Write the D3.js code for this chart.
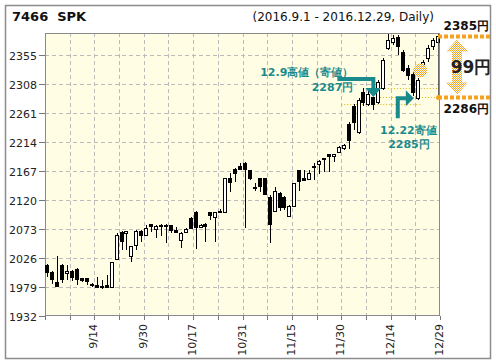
<!DOCTYPE html>
<html><head><meta charset="utf-8">
<script src="https://cdn.jsdelivr.net/npm/d3@7"></script>
<style>body{margin:0;background:#fff}</style>
</head><body><svg id="c" width="496" height="364"></svg>
<script>
const dates = ["9/1","9/2","9/5","9/6","9/7","9/8","9/9","9/12","9/13","9/14","9/15","9/16","9/20","9/21","9/23","9/26","9/27","9/28","9/29","9/30",
"10/3","10/4","10/5","10/6","10/7","10/11","10/12","10/13","10/14","10/17","10/18","10/19","10/20","10/21","10/24","10/25","10/26","10/27","10/28","10/31",
"11/1","11/2","11/4","11/7","11/8","11/9","11/10","11/11","11/14","11/15","11/16","11/17","11/18","11/21","11/22","11/24","11/25","11/28","11/29","11/30",
"12/1","12/2","12/5","12/6","12/7","12/8","12/9","12/12","12/13","12/14","12/15","12/16","12/19","12/20","12/21","12/22","12/26","12/27","12/28","12/29"];
const openP = [2014.7,2003.8,1986.6,2014.7,2001.2,2004.9,2008.2,1993.1,1993.1,1984.3,1982.2,1981.1,1982.2,1978.5,2023.9,2068.6,2066,2029.2,2047.1,2069.8,
2063.3,2080.6,2072.5,2080,2080,2079,2071.4,2055.2,2068.1,2090.3,2101,2075.8,2081.1,2100.1,2092,2102.7,2100.1,2155.2,2169.8,2175.1,
2179.5,2168.6,2140.6,2155.2,2155.2,2125.3,2102.2,2131.8,2125.3,2094.1,2110.3,2168.6,2155.2,2153.5,2175.1,2178.3,2187.6,2194.1,2191.3,2198.3,
2203.8,2243.2,2272.3,2230.2,2295,2275.6,2286.9,2278.8,2301.5,2366.3,2376.1,2384.2,2359.9,2334,2324.2,2285,2327.5,2350.1,2369.6,2376.1];
const highP = [2016,2005,2029.2,2016.3,2014.7,2006.6,2009.8,1993.6,1993.6,1985.5,1995.7,1990.3,1998.4,2019.5,2066,2069.8,2069.8,2045.4,2071.4,2071.4,
2079.5,2081.1,2079.5,2080.3,2080.3,2079.5,2075.8,2068.1,2074.6,2092.4,2102.2,2081.1,2081.9,2100.6,2100.6,2105.4,2155.7,2163.3,2171.9,2179.5,
2180.8,2168.6,2147.6,2155.7,2155.7,2128.1,2141.6,2133,2126.9,2111.9,2147.6,2168.6,2168.6,2168.6,2179.5,2184.8,2188.1,2194.6,2194.6,2207.5,
2210.7,2246.4,2275.6,2285.3,2301.5,2298.3,2286.9,2314.5,2350.1,2389,2387.4,2387.4,2363.1,2338.8,2327.5,2317.7,2346.9,2371.2,2382.6,2389];
const lowP = [1995.7,1983.9,1978.5,1985.5,1990.3,1989.2,1982.2,1987.1,1982.2,1979.8,1976.9,1975.3,1976.9,1977,2023.9,2039,2039,2020,2039,2051.9,
2063.3,2068.6,2057.9,2061.7,2050.3,2066,2066,2041.7,2066.5,2074.1,2040.1,2074.6,2052.4,2087.6,2052.4,2099.7,2098.9,2133.5,2149.7,2169.8,
2074.1,2152.4,2134.6,2133.5,2129.2,2050.8,2102.2,2102.2,2103.8,2094.1,2110.3,2135.1,2152.4,2153.5,2152.4,2161.7,2165.9,2165.9,2182.1,2197.8,
2200.6,2202.7,2233.5,2227,2272.3,2272.3,2265.9,2275.6,2298.3,2363.1,2371.2,2355,2327.5,2314.5,2288.6,2282.1,2324.2,2343.7,2363.1,2370];
const closeP = [2003.8,1991.5,1980.6,1991.5,2005.4,1994.7,1991.5,1990.3,1989.2,1981.8,1979.5,1978.5,1978.5,2019,2063.3,2054,2069.3,2045.4,2069.8,2063.3,
2075.1,2077.9,2078.3,2077.9,2077.9,2071.4,2068.6,2067,2072.5,2074.1,2076.7,2079.5,2078.3,2095.7,2100.1,2100.1,2155.2,2149.7,2164.2,2169.8,
2169.8,2155.2,2139,2142.7,2129.2,2080.6,2134.6,2109.1,2108.2,2110.3,2147.1,2151.3,2152.4,2164.2,2173,2183.2,2186,2191.3,2194.1,2206.4,
2209.1,2217.2,2246.4,2282.1,2278.8,2291.8,2275.6,2311.2,2346.9,2379.3,2382.6,2369.6,2330.7,2322.6,2295,2314.5,2343.7,2366.3,2379.3,2385];
const yTicks = [1932,1979,2026,2073,2120,2167,2214,2261,2308,2355];
const xTickLabels = ["9/14","9/30","10/17","10/31","11/15","11/30","12/14","12/29"];
const title = "7466\u00a0\u00a0SPK";
const subtitle = "(2016.9.1 - 2016.12.29, Daily)";
const ann1 = ["12.9高値（寄値）","2287円"], ann1Val = 2287, ann1Idx = 66;
const ann2 = ["12.22寄値","2285円"], ann2Val = 2285, ann2Idx = 75;
const rangeTop = 2385, rangeBottom = 2286;
const guideLevels = [2302, 2287, 2276];

const svg = d3.select("#c");
const W=496,H=364, L=45,R=440,T=33,B=316;
const n = dates.length;
const x = d3.scaleLinear().domain([0,n]).range([L,R]);
const y = d3.scaleLinear().domain([1932,2390.6]).range([B,T]);
const FONT = "'DejaVu Sans', Verdana, sans-serif";
const TEAL = "#1b8a8c", ORANGE = "#f5a21e";

const defs = svg.append("defs");
const po = defs.append("pattern").attr("id","orpat").attr("width",2).attr("height",2).attr("patternUnits","userSpaceOnUse");
po.append("rect").attr("width",2).attr("height",2).attr("fill","#ffffff");
po.append("rect").attr("width",1).attr("height",1).attr("fill",ORANGE);
po.append("rect").attr("x",1).attr("y",1).attr("width",1).attr("height",1).attr("fill",ORANGE);

svg.append("rect").attr("width",W).attr("height",H).attr("fill","#fff");
svg.append("rect").attr("x",5.5).attr("y",5.5).attr("width",485).attr("height",353).attr("fill","none").attr("stroke","#8c8c8c").attr("stroke-width",1.5);

svg.append("text").attr("x",12).attr("y",21).attr("font-family",FONT).attr("font-size",13).attr("font-weight","bold").attr("fill","#111").text(title);
svg.append("text").attr("x",434).attr("y",21).attr("text-anchor","end").attr("font-family",FONT).attr("font-size",12).attr("fill","#111").text(subtitle);

svg.append("rect").attr("x",L).attr("y",T).attr("width",R-L).attr("height",B-T).attr("fill","#fffee4");

// grid
const g = svg.append("g").attr("shape-rendering","crispEdges");
yTicks.slice(1).forEach(v=>{
  g.append("line").attr("x1",L).attr("x2",R).attr("y1",Math.round(y(v))+0.5).attr("y2",Math.round(y(v))+0.5)
   .attr("stroke","#bcbcbc").attr("stroke-dasharray","4,3");
});
d3.range(5,n,5).forEach(i=>{
  g.append("line").attr("y1",T).attr("y2",B).attr("x1",Math.round(x(i))+0.5).attr("x2",Math.round(x(i))+0.5)
   .attr("stroke","#bcbcbc").attr("stroke-dasharray","4,3");
});
g.append("rect").attr("x",L+0.5).attr("y",T+0.5).attr("width",R-L-1).attr("height",B-T-1).attr("fill","none").attr("stroke","#8a8a8a");

// y axis
yTicks.forEach(v=>{
  const yy = Math.round(y(v))+0.5;
  g.append("line").attr("x1",39).attr("x2",L).attr("y1",yy).attr("y2",yy).attr("stroke","#777");
  svg.append("text").attr("x",37).attr("y",yy+4).attr("text-anchor","end").attr("font-family",FONT).attr("font-size",11).attr("fill","#222").text(v);
});
// x ticks
d3.range(0,n+1,5).forEach(i=>{
  const xx = Math.round(x(i))+0.5;
  g.append("line").attr("x1",xx).attr("x2",xx).attr("y1",B).attr("y2",B+4).attr("stroke","#777");
});
xTickLabels.forEach(lab=>{
  const i = dates.indexOf(lab);
  const xx = x(i+1);
  svg.append("text").attr("transform",`translate(${xx+3},324) rotate(-90)`).attr("text-anchor","end")
    .attr("font-family",FONT).attr("font-size",11).attr("fill","#222").text(lab);
});

// yellow dotted guide lines
const yl = svg.append("g").attr("stroke","#d8b400").attr("stroke-width",1).attr("stroke-dasharray","1,2");
yl.append("line").attr("x1",x(67)).attr("x2",x(80)-2).attr("y1",Math.round(y(guideLevels[0]))+0.5).attr("y2",Math.round(y(guideLevels[0]))+0.5);
yl.append("line").attr("x1",x(66)).attr("x2",x(80)-2).attr("y1",Math.round(y(guideLevels[1]))+0.5).attr("y2",Math.round(y(guideLevels[1]))+0.5);
yl.append("line").attr("x1",x(60)).attr("x2",x(76)).attr("y1",Math.round(y(guideLevels[2]))+0.5).attr("y2",Math.round(y(guideLevels[2]))+0.5);

// candles
const cg = svg.append("g").attr("shape-rendering","crispEdges");
dates.forEach((d,i)=>{
  const cx = Math.round(x(i+0.5));
  const o=openP[i], c=closeP[i], h=highP[i], l=lowP[i];
  cg.append("line").attr("x1",cx+0.5).attr("x2",cx+0.5).attr("y1",y(h)).attr("y2",y(l)).attr("stroke","#000");
  const top = y(Math.max(o,c)), bot = y(Math.min(o,c));
  const up = c>=o;
  cg.append("rect").attr("x",cx-1.5).attr("y",Math.round(top)+0.5).attr("width",3).attr("height",Math.max(1,Math.round(bot)-Math.round(top)))
    .attr("fill",up?"#fff":"#000").attr("stroke","#000");
});

// range marker line at last day
const lx = Math.round(x(n-0.5))+0.5;
svg.append("line").attr("x1",lx).attr("x2",lx).attr("y1",y(rangeTop)).attr("y2",y(rangeBottom)).attr("stroke","#666").attr("stroke-width",1);

// teal annotation 1
const a1x = x(ann1Idx+0.5), a1y = y(ann1Val);
svg.append("path").attr("d",`M${a1x-36},${a1y-18} H${a1x} V${a1y-8}`).attr("fill","none").attr("stroke",TEAL).attr("stroke-width",4);
svg.append("path").attr("d",`M${a1x-8},${a1y-9} L${a1x+8},${a1y-9} L${a1x},${a1y} Z`).attr("fill",TEAL);
svg.append("text").attr("x",a1x-20).attr("y",a1y-21).attr("text-anchor","end").attr("font-family",FONT).attr("font-size",11).attr("font-weight","bold").attr("fill",TEAL).text(ann1[0]);
svg.append("text").attr("x",a1x-20).attr("y",a1y-6).attr("text-anchor","end").attr("font-family",FONT).attr("font-size",11).attr("font-weight","bold").attr("fill",TEAL).text(ann1[1]);

// teal annotation 2
const a2x = x(ann2Idx+0.5), a2y = y(ann2Val);
svg.append("path").attr("d",`M${a2x-20},${a2y+20} V${a2y} H${a2x-11}`).attr("fill","none").attr("stroke",TEAL).attr("stroke-width",4);
svg.append("path").attr("d",`M${a2x-12},${a2y-8} L${a2x-12},${a2y+8} L${a2x-4},${a2y} Z`).attr("fill",TEAL);
svg.append("text").attr("x",a2x+19).attr("y",a2y+36).attr("text-anchor","end").attr("font-family",FONT).attr("font-size",11).attr("font-weight","bold").attr("fill",TEAL).text(ann2[0]);
svg.append("text").attr("x",a2x+12).attr("y",a2y+50).attr("text-anchor","end").attr("font-family",FONT).attr("font-size",11).attr("font-weight","bold").attr("fill",TEAL).text(ann2[1]);

// orange highlight circle
svg.append("circle").attr("cx",x(76)).attr("cy",y(2330)).attr("r",7).attr("fill","url(#orpat)");

// orange range
const ot = y(rangeTop), ob = y(rangeBottom);
const og = svg.append("g");
og.append("line").attr("x1",R-2).attr("x2",490).attr("y1",ot).attr("y2",ot).attr("stroke",ORANGE).attr("stroke-width",4).attr("stroke-dasharray","4,2");
og.append("line").attr("x1",R-2).attr("x2",490).attr("y1",ob).attr("y2",ob).attr("stroke",ORANGE).attr("stroke-width",4).attr("stroke-dasharray","4,2");
og.append("circle").attr("cx",lx).attr("cy",ob).attr("r",2.5).attr("fill",ORANGE);
const ax = 457;
og.append("path").attr("d",`M${ax},${ot+3} L${ax+11},${ot+15} L${ax+5},${ot+15} L${ax+5},${ob-15} L${ax+11},${ob-15} L${ax},${ob-3} L${ax-11},${ob-15} L${ax-5},${ob-15} L${ax-5},${ot+15} L${ax-11},${ot+15} Z`).attr("fill","url(#orpat)");
svg.append("text").attr("x",471).attr("y",(ot+ob)/2+6).attr("text-anchor","middle").attr("font-family",FONT).attr("font-size",17).attr("font-weight","bold").attr("fill","#222").text((rangeTop-rangeBottom)+"円");
svg.append("text").attr("x",489).attr("y",ot-6).attr("text-anchor","end").attr("font-family",FONT).attr("font-size",12).attr("font-weight","bold").attr("fill","#111").text(rangeTop+"円");
svg.append("text").attr("x",489).attr("y",ob+15).attr("text-anchor","end").attr("font-family",FONT).attr("font-size",12).attr("font-weight","bold").attr("fill","#111").text(rangeBottom+"円");
</script></body></html>
